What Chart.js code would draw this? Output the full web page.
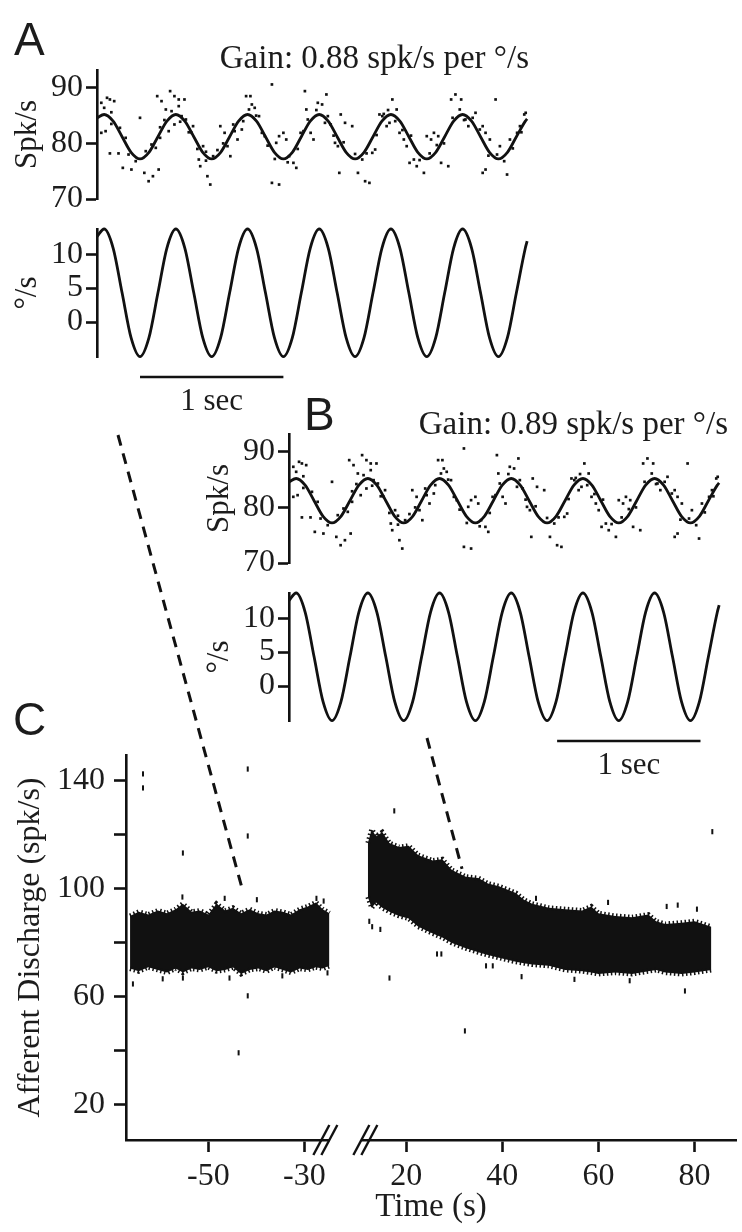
<!DOCTYPE html>
<html>
<head>
<meta charset="utf-8">
<script src="https://cdn.jsdelivr.net/npm/chart.js@4.4.1/dist/chart.umd.min.js"></script>
<style>
  html, body { margin: 0; padding: 0; background: #fff; }
  #fig { position: relative; width: 742px; height: 1232px; overflow: hidden; }
  #fig canvas { position: absolute; }
  .lbl { position: absolute; white-space: nowrap; color: #1c1c1c; }
  .panel { font-family: 'Liberation Sans', Arial, sans-serif; font-size: 46px; line-height: 46px; }
  .gain { font-family: 'Liberation Serif', 'Times New Roman', serif; font-size: 33px; line-height: 33px; }
</style>
</head>
<body>
<div id="fig">
  <canvas id="aRate" width="545" height="185" style="left:0;top:40px"></canvas>
  <canvas id="aVel" width="545" height="230" style="left:0;top:195px"></canvas>
  <canvas id="bRate" width="545" height="185" style="left:192px;top:404px"></canvas>
  <canvas id="bVel" width="545" height="230" style="left:192px;top:559px"></canvas>
  <canvas id="cMain" width="742" height="812" style="left:0;top:420px"></canvas>

  <div class="lbl panel" style="left:14px;top:16px">A</div>
  <div class="lbl panel" style="left:304px;top:391px">B</div>
  <div class="lbl panel" style="left:13px;top:696px">C</div>
  <div class="lbl gain" style="right:213px;top:41px">Gain: 0.88 spk/s per °/s</div>
  <div class="lbl gain" style="right:14px;top:407px">Gain: 0.89 spk/s per °/s</div>
</div>

<script>
// ---- panels A and B: firing rate and head velocity over 3 s of 2 Hz rotation ----
const fitT = [0, 0.05, 0.1125, 0.175, 0.2375, 0.3, 0.3625, 0.425, 0.4875,
  0.55, 0.6125, 0.675, 0.7375, 0.8, 0.8625, 0.925, 0.9875,
  1.05, 1.1125, 1.175, 1.2375, 1.3, 1.3625, 1.425, 1.4875,
  1.55, 1.6125, 1.675, 1.7375, 1.8, 1.8625, 1.925, 1.9875,
  2.05, 2.1125, 2.175, 2.2375, 2.3, 2.3625, 2.425, 2.4875,
  2.55, 2.6125, 2.675, 2.7375, 2.8, 2.8625, 2.925, 2.9875, 3.0];
const fitRate = [84.6, 85.2, 84.0, 81.2, 78.4, 77.2, 78.4, 81.2, 84.0,
  85.2, 84.0, 81.2, 78.4, 77.2, 78.4, 81.2, 84.0,
  85.2, 84.0, 81.2, 78.4, 77.2, 78.4, 81.2, 84.0,
  85.2, 84.0, 81.2, 78.4, 77.2, 78.4, 81.2, 84.0,
  85.2, 84.0, 81.2, 78.4, 77.2, 78.4, 81.2, 84.0,
  85.2, 84.0, 81.2, 78.4, 77.2, 78.4, 81.2, 84.0, 84.4];
const fitVel = [12.6, 13.7, 10.9, 4.3, -2.3, -5.1, -2.3, 4.3, 10.9,
  13.7, 10.9, 4.3, -2.3, -5.1, -2.3, 4.3, 10.9,
  13.7, 10.9, 4.3, -2.3, -5.1, -2.3, 4.3, 10.9,
  13.7, 10.9, 4.3, -2.3, -5.1, -2.3, 4.3, 10.9,
  13.7, 10.9, 4.3, -2.3, -5.1, -2.3, 4.3, 10.9,
  13.7, 10.9, 4.3, -2.3, -5.1, -2.3, 4.3, 10.9, 11.9];

// binned spike rate samples (same record shown in A and B)
const dotT = [0.03, 0.05, 0.07, 0.09, 0.12, 0.03, 0.06, 0.09, 0.15, 0.18,
  0.24, 0.20, 0.30, 0.33, 0.36, 0.38, 0.41, 0.43, 0.39, 0.42,
  0.45, 0.48, 0.51, 0.54, 0.57, 0.61, 0.57, 0.50, 0.54, 0.59,
  0.62, 0.66, 0.67, 0.72, 0.71, 0.77, 0.79, 0.74, 0.81, 0.86,
  0.89, 0.91, 0.93, 0.96, 0.98, 1.01, 1.04, 1.07, 1.08, 1.10,
  1.13, 1.15, 1.17, 1.22, 1.25, 1.27, 1.30, 1.32, 1.22, 1.27,
  1.34, 1.37, 1.39, 1.42, 1.44, 1.45, 1.46, 1.49, 1.51, 1.54,
  1.57, 1.60, 1.61, 1.63, 1.66, 1.68, 1.70, 1.73, 1.78, 1.69,
  1.82, 1.87, 1.90, 1.85, 1.92, 1.94, 1.97, 1.99, 2.02, 2.04,
  2.06, 2.09, 2.11, 2.14, 2.16, 2.18, 2.21, 2.23, 2.28, 2.30,
  2.33, 2.35, 2.38, 2.40, 2.45, 2.47, 2.50, 2.53, 2.54, 2.57,
  2.59, 2.64, 2.69, 2.71, 2.74, 2.78, 2.81, 2.69, 2.71, 2.86,
  2.88, 2.93, 2.95, 2.98, 2.99,
  0.10, 0.10, 0.16, 0.22, 0.27, 0.34, 0.44, 0.44, 0.52, 0.64,
  0.70, 0.76, 0.76, 0.84, 0.88, 0.95, 1.02, 1.11, 1.19, 1.24,
  1.33, 1.40, 1.47, 1.53, 1.59, 1.65, 1.72, 1.80, 1.88, 1.95,
  2.00, 2.08, 2.13, 2.19, 2.25, 2.32, 2.37, 2.42, 2.48, 2.56,
  2.62, 2.67, 2.73, 2.79, 2.84, 2.90, 2.96, 0.58, 0.47, 1.06, 2.03];
const dotRate = [87.3, 86.4, 88.2, 87.9, 87.6, 81.9, 82.2, 78.2, 78.2, 75.6,
  75.3, 81.0, 84.6, 74.7, 73.2, 79.8, 79.2, 75.3, 74.1, 88.5,
  87.6, 86.1, 89.4, 88.5, 87.9, 87.9, 86.7, 82.2, 83.4, 84.9,
  84.3, 81.9, 83.1, 75.9, 77.1, 74.1, 72.6, 79.5, 77.7, 83.1,
  81.9, 79.5, 77.7, 82.2, 80.7, 82.5, 88.5, 88.5, 87.0, 86.4,
  84.9, 81.9, 81.3, 90.6, 80.1, 81.3, 81.9, 80.7, 72.9, 72.6,
  77.7, 76.5, 75.6, 81.9, 82.2, 89.4, 86.1, 81.9, 80.7, 87.3,
  87.0, 88.8, 84.9, 83.4, 80.1, 79.5, 85.2, 83.7, 83.1, 74.7,
  74.7, 73.2, 72.9, 77.1, 78.3, 78.9, 85.2, 84.9, 83.1, 83.7,
  87.9, 86.1, 81.9, 80.7, 79.5, 76.5, 77.1, 75.9, 74.7, 81.3,
  80.7, 81.9, 81.3, 76.5, 75.9, 87.9, 88.8, 86.1, 87.9, 84.3,
  83.1, 85.5, 83.1, 81.9, 80.7, 87.9, 79.5, 74.7, 75.3, 74.4,
  80.7, 81.9, 83.1, 85.2, 85.5,
  83.5, 85.6, 82.8, 78.0, 76.8, 78.6, 81.0, 82.9, 85.8, 82.0,
  79.0, 78.5, 76.9, 78.8, 80.0, 83.4, 84.0, 85.0, 79.6, 77.2,
  76.6, 79.0, 84.3, 86.0, 83.7, 81.4, 80.2, 78.1, 78.2, 81.5,
  85.3, 84.0, 82.4, 81.4, 77.0, 78.2, 79.7, 80.0, 84.6, 84.2,
  84.6, 82.5, 77.8, 78.0, 76.8, 79.1, 82.0, 83.9, 84.2, 86.1, 86.0];

const rateTicks = [70, 80, 90];
const velTicks = [0, 5, 10];
const aBar = [0.3, 1.3];     // 1 sec scale bar
const bBar = [1.87, 2.87];

// ---- panel C: afferent discharge before and after the break ----
const cLeftT = [-66.3, -64.5, -62.5, -60.5, -58.6, -56.8, -55.3, -53.5, -51.8, -50.0,
  -48.3, -46.5, -44.9, -43.2, -41.4, -39.6, -37.9, -36.2, -34.5, -32.8,
  -31.0, -29.3, -27.6, -26.2, -24.8];
const cLeftHi = [90.0, 91.5, 90.5, 92.0, 91.0, 92.5, 94.5, 91.5, 92.0, 90.5,
  94.5, 92.0, 93.0, 91.0, 92.5, 91.0, 90.5, 92.0, 91.5, 90.5,
  92.5, 93.5, 95.0, 92.5, 91.0];
const cLeftLo = [70.5, 69.5, 71.0, 70.0, 69.0, 70.5, 69.0, 70.5, 70.0, 71.0,
  69.5, 70.0, 71.0, 68.5, 70.0, 70.5, 69.5, 71.0, 70.0, 69.0,
  70.5, 70.0, 71.0, 70.5, 71.5];
const cRightT = [12.0, 12.8, 13.7, 15.0, 16.5, 18.5, 20.5, 22.5, 25.5, 27.5,
  29.5, 32.4, 35.0, 37.0, 39.3, 42.8, 44.5, 46.2, 49.7, 53.1,
  56.6, 58.5, 60.0, 63.5, 67.0, 70.4, 72.0, 73.9, 77.3, 80.0, 83.5];
const cRightHi = [117, 122, 119.5, 121, 117, 115.5, 116, 112.5, 110.5, 111,
  107, 104.5, 104, 102, 101, 98.5, 96, 94.5, 93, 92.5,
  92, 93.5, 91, 90, 89.5, 90.5, 88, 87, 87.5, 88, 86];
const cRightLo = [97, 93, 95, 93, 91.5, 90, 89, 86, 83.5, 82,
  80, 78, 76.5, 75.5, 74.5, 73, 72.5, 72, 71.5, 70,
  69.5, 69, 68.5, 69, 68.5, 69.5, 70, 69, 68.5, 69, 70];
const cStrayT = [-63.6, -63.6, -41.8, -41.8, -55.3, -41.8, -65.7, -59.5, -55.3, -45.6,
  -34.6, -25.2, -43.7, -55.4, -46.6, -39.9, -27.5, -26.0,
  17.5, 83.7, 16.5, 12.3, 12.9, 14.6, 26.4, 27.3, 36.6, 38.0,
  32.2, 78.0, 66.5, 55.0, 47.0, 62.0, 74.2, 76.5, 80.5, 44.0];
const cStrayV = [142.6, 137.4, 144.4, 119.6, 113.3, 60.4, 64.8, 66.7, 67.0, 67.0,
  67.8, 68.9, 39.3, 97.0, 96.5, 96.0, 96.5, 95.5,
  128.9, 121.2, 67.0, 88.0, 86.0, 85.0, 75.9, 75.9, 71.5, 71.5,
  47.4, 62.2, 66.0, 66.5, 96.5, 95.0, 93.5, 94.0, 92.5, 67.5];
const cTickTimes = [-50, -30, 20, 40, 60, 80];
const cYTicks = [20, 40, 60, 80, 100, 120, 140];
const cYLabels = [20, 60, 100, 140];
// times in C that panels A and B were taken from
const cLinkT = [-43.1, 31.6];
const cLinkV = [101, 107.4];

const C_GAP = 28.8; // seconds cut out of the time axis at the break
const toU = t => (t < 0 ? t : t - C_GAP);

const SERIF = "'Liberation Serif', 'Times New Roman', serif";
const INK = '#111';
const TXT = '#1c1c1c';

const pts = (xs, ys, fx = v => v) => xs.map((x, i) => ({ x: fx(x), y: ys[i] }));

const dots = (xs, ys) => ({
  data: pts(xs, ys), showLine: false, pointStyle: 'rect', pointRadius: 1.9,
  pointBackgroundColor: INK, pointBorderWidth: 0, clip: false
});
const curve = (xs, ys) => ({
  data: pts(xs, ys), borderColor: INK, borderWidth: 2.8, pointRadius: 0,
  cubicInterpolationMode: 'monotone', fill: false, clip: false
});

const scaleBar = span => ({
  id: 'scaleBar',
  afterDraw(chart) {
    const { ctx, chartArea, scales: { x } } = chart;
    const y = chartArea.bottom + 20;
    ctx.save();
    ctx.strokeStyle = INK;
    ctx.lineWidth = 2.6;
    ctx.beginPath();
    ctx.moveTo(x.getPixelForValue(span[0]), y);
    ctx.lineTo(x.getPixelForValue(span[1]), y);
    ctx.stroke();
    ctx.fillStyle = TXT;
    ctx.font = '31px ' + SERIF;
    ctx.textAlign = 'center';
    ctx.fillText('1 sec', x.getPixelForValue((span[0] + span[1]) / 2), y + 33);
    ctx.restore();
  }
});

function traceChart(id, o) {
  return new Chart(document.getElementById(id), {
    type: 'line',
    data: { datasets: o.datasets },
    options: {
      responsive: false, animation: false, devicePixelRatio: 1,
      layout: { padding: o.pad },
      plugins: { legend: { display: false }, tooltip: { enabled: false } },
      scales: {
        x: { type: 'linear', min: 0, max: 3.02, bounds: 'data', display: false },
        y: {
          min: o.yMin, max: o.yMax, bounds: 'data',
          afterFit: s => { s.width = 97; },
          afterBuildTicks: s => { s.ticks = o.yTicks.map(v => ({ value: v })); },
          ticks: { autoSkip: false, padding: 3, font: { family: SERIF, size: 32 }, color: TXT },
          grid: { drawOnChartArea: false, tickLength: 11, tickWidth: 2.6, tickColor: INK },
          border: { color: INK, width: 2.6 },
          title: { display: true, text: o.title, font: { family: SERIF, size: 31 }, color: TXT, padding: { top: 9, bottom: 0 } }
        }
      }
    },
    plugins: o.bar ? [scaleBar(o.bar)] : []
  });
}

const ratePad = { top: 30, bottom: 26, left: 0, right: 15 };
const velPad = { top: 34, bottom: 68, left: 0, right: 15 };

traceChart('aRate', { yMin: 70, yMax: 93.2, yTicks: rateTicks, title: 'Spk/s', pad: ratePad,
  datasets: [dots(dotT, dotRate), curve(fitT, fitRate)] });
traceChart('aVel', { yMin: -5.15, yMax: 13.7, yTicks: velTicks, title: '°/s', pad: velPad, bar: aBar,
  datasets: [curve(fitT, fitVel)] });
traceChart('bRate', { yMin: 70, yMax: 93.2, yTicks: rateTicks, title: 'Spk/s', pad: ratePad,
  datasets: [dots(dotT, dotRate), curve(fitT, fitRate)] });
traceChart('bVel', { yMin: -5.15, yMax: 13.7, yTicks: velTicks, title: '°/s', pad: velPad, bar: bBar,
  datasets: [curve(fitT, fitVel)] });

// panel C
const cTickU = cTickTimes.map(toU);
// band edges get a thick broken stroke so the rim looks ragged like the raw spikes
const edge = (xs, ys, fill) => ({
  data: pts(xs, ys, toU), borderColor: INK, backgroundColor: INK, borderWidth: 5,
  borderDash: [1.5, 2.5], pointRadius: 0, tension: 0, fill
});

const cDecor = {
  id: 'cDecor',
  afterDraw(chart) {
    const { ctx, chartArea, scales: { x, y } } = chart;
    ctx.save();
    // broken time axis
    const mid = (x.getPixelForValue(toU(-30)) + x.getPixelForValue(toU(20))) / 2;
    const yb = chartArea.bottom;
    ctx.fillStyle = '#fff';
    ctx.fillRect(mid - 26, yb - 4, 32, 8);
    ctx.strokeStyle = INK;
    ctx.lineWidth = 2.4;
    [mid - 34, mid - 26, mid + 6, mid + 14].forEach(x0 => {
      ctx.beginPath();
      ctx.moveTo(x0 - 8, yb + 15);
      ctx.lineTo(x0 + 8, yb - 15);
      ctx.stroke();
    });
    // dashed links up to panels A and B
    const top = chart.canvas.offsetTop;
    const linkTop = [[118, 435], [427, 738]];
    ctx.setLineDash([11, 8]);
    ctx.lineWidth = 3;
    linkTop.forEach((p, i) => {
      ctx.beginPath();
      ctx.moveTo(p[0], p[1] - top);
      ctx.lineTo(x.getPixelForValue(toU(cLinkT[i])), y.getPixelForValue(cLinkV[i]));
      ctx.stroke();
    });
    ctx.restore();
  }
};

new Chart(document.getElementById('cMain'), {
  type: 'line',
  data: {
    datasets: [
      edge(cLeftT, cLeftHi, false),
      edge(cLeftT, cLeftLo, '-1'),
      edge(cRightT, cRightHi, false),
      edge(cRightT, cRightLo, '-1'),
      {
        data: pts(cStrayT, cStrayV, toU), showLine: false, pointStyle: 'line', pointRotation: 90,
        pointRadius: 2.6, pointBorderWidth: 2, pointBorderColor: INK, clip: false
      }
    ]
  },
  options: {
    responsive: false, animation: false, devicePixelRatio: 1,
    layout: { padding: { top: 335, right: 4, left: 0, bottom: 0 } },
    plugins: { legend: { display: false }, tooltip: { enabled: false } },
    scales: {
      x: {
        type: 'linear', min: -67.14, max: 59.83, bounds: 'data',
        afterFit: s => { s.height = 92; },
        afterBuildTicks: s => { s.ticks = cTickU.map(v => ({ value: v })); },
        ticks: {
          autoSkip: false, maxRotation: 0, padding: 5, font: { family: SERIF, size: 32 }, color: TXT,
          callback: v => {
            const i = cTickU.findIndex(u => Math.abs(u - v) < 1e-6);
            return i < 0 ? '' : String(cTickTimes[i]);
          }
        },
        grid: { drawOnChartArea: false, tickLength: 12, tickWidth: 2.6, tickColor: INK },
        border: { color: INK, width: 2.6 },
        title: { display: true, text: 'Time (s)', font: { family: SERIF, size: 33 }, color: TXT, padding: { top: 0, bottom: 5 } }
      },
      y: {
        min: 7, max: 149.6, bounds: 'data',
        afterFit: s => { s.width = 126; },
        afterBuildTicks: s => { s.ticks = cYTicks.map(v => ({ value: v })); },
        ticks: {
          autoSkip: false, padding: 9, font: { family: SERIF, size: 32 }, color: TXT,
          callback: v => (cYLabels.includes(v) ? String(v) : '')
        },
        grid: { drawOnChartArea: false, tickLength: 12, tickWidth: 2.6, tickColor: INK },
        border: { color: INK, width: 2.6 },
        title: { display: true, text: 'Afferent Discharge (spk/s)', font: { family: SERIF, size: 32 }, color: TXT, padding: { top: 11, bottom: 0 } }
      }
    }
  },
  plugins: [cDecor]
});
</script>
</body>
</html>
